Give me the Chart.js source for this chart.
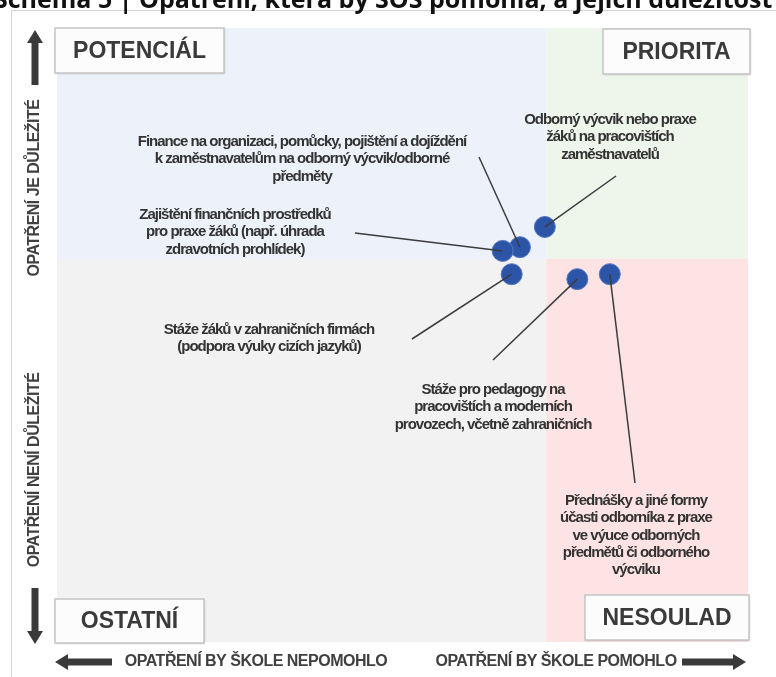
<!DOCTYPE html>
<html>
<head>
<meta charset="utf-8">
<script src="https://cdn.jsdelivr.net/npm/chart.js@4.4.1/dist/chart.umd.min.js"></script>
<style>
  body { margin: 0; background: #fff; }
  canvas { display: block; }
</style>
</head>
<body>
<canvas id="matice" width="776" height="677"></canvas>
<script>
// data
const titulek = 'Schéma 5 | Opatření, která by SOŠ pomohla, a jejich důležitost';
const opatreni = [
  ['Odborný výcvik nebo praxe', 'žáků na pracovištích', 'zaměstnavatelů'],
  ['Finance na organizaci, pomůcky, pojištění a dojíždění', 'k zaměstnavatelům na odborný výcvik/odborné', 'předměty'],
  ['Zajištění finančních prostředků', 'pro praxe žáků (např. úhrada', 'zdravotních prohlídek)'],
  ['Stáže žáků v zahraničních firmách', '(podpora výuky cizích jazyků)'],
  ['Stáže pro pedagogy na', 'pracovištích a moderních', 'provozech, včetně zahraničních'],
  ['Přednášky a jiné formy', 'účasti odborníka z praxe', 've výuce odborných', 'předmětů či odborného', 'výcviku']
];
const pomohlo = [70.6, 67.0, 64.5, 65.8, 75.3, 80.0];
const dulezitost = [67.6, 64.3, 63.7, 59.9, 59.1, 59.9];
const hranicePomohlo = 70.8;
const hraniceDulezitost = 62.4;
const kvadranty = ['POTENCIÁL', 'PRIORITA', 'OSTATNÍ', 'NESOULAD'];
const osaY = ['OPATŘENÍ JE DŮLEŽITÉ', 'OPATŘENÍ NENÍ DŮLEŽITÉ'];
const osaX = ['OPATŘENÍ BY ŠKOLE NEPOMOHLO', 'OPATŘENÍ BY ŠKOLE POMOHLO'];

// kde stoji popisky (px) a kam vede jejich cara
const popisky = [
  { x: 610, y: 120, cara: [616, 176] },
  { x: 302, y: 142, cara: [479, 157] },
  { x: 235, y: 215, cara: [355, 233] },
  { x: 269, y: 330, cara: [412, 339] },
  { x: 493, y: 390, cara: [493, 360] },
  { x: 636, y: 501, cara: [635, 483] }
];

const PISMO = '"Liberation Sans", Arial, sans-serif';
const TEXT = '#333';

function sipka(ctx, x1, y1, x2, y2) {
  // x2,y2 = spicka
  const ang = Math.atan2(y2 - y1, x2 - x1);
  const delka = Math.hypot(x2 - x1, y2 - y1);
  ctx.save();
  ctx.translate(x1, y1);
  ctx.rotate(ang);
  ctx.fillStyle = '#3a3a3a';
  ctx.fillRect(0, -3.5, delka - 12, 7);
  ctx.beginPath();
  ctx.moveTo(delka, 0);
  ctx.lineTo(delka - 13, -8);
  ctx.lineTo(delka - 13, 8);
  ctx.closePath();
  ctx.fill();
  ctx.restore();
}

function box(ctx, x, y, w, h, text) {
  ctx.save();
  ctx.shadowColor = 'rgba(0,0,0,0.15)';
  ctx.shadowBlur = 2;
  ctx.shadowOffsetX = 1;
  ctx.shadowOffsetY = 1;
  ctx.fillStyle = '#fcfcfc';
  ctx.fillRect(x, y, w, h);
  ctx.restore();
  ctx.strokeStyle = '#c4c4c4';
  ctx.lineWidth = 1.5;
  ctx.strokeRect(x, y, w, h);
  ctx.fillStyle = '#3a3a3a';
  ctx.font = 'bold 23px ' + PISMO;
  ctx.textAlign = 'center';
  ctx.textBaseline = 'middle';
  ctx.fillText(text, x + w / 2, y + h / 2 + 1);
}

const pozadi = {
  id: 'pozadi',
  beforeDraw(chart) {
    const { ctx, chartArea: a, scales } = chart;
    const sx = scales.x.getPixelForValue(hranicePomohlo);
    const sy = scales.y.getPixelForValue(hraniceDulezitost);
    ctx.save();
    ctx.fillStyle = '#fff';
    ctx.fillRect(0, 0, chart.width, chart.height);
    ctx.strokeStyle = '#d6d6d6';
    ctx.lineWidth = 1;
    ctx.strokeRect(11.5, 10.5, 900, 900);
    ctx.fillStyle = '#edf2fa';
    ctx.fillRect(a.left, a.top, sx - a.left, sy - a.top);
    ctx.fillStyle = '#eef5eb';
    ctx.fillRect(sx, a.top, a.right - sx, sy - a.top);
    ctx.fillStyle = '#f2f2f2';
    ctx.fillRect(a.left, sy, sx - a.left, a.bottom - sy);
    ctx.fillStyle = '#fde3e3';
    ctx.fillRect(sx, sy, a.right - sx, a.bottom - sy);
    ctx.restore();
  },
  afterDatasetsDraw(chart) {
    const { ctx, chartArea: a, scales } = chart;
    ctx.save();

    // vodici cary a popisky
    ctx.strokeStyle = '#3c3c3c';
    ctx.lineWidth = 1.5;
    popisky.forEach((p, i) => {
      const px = scales.x.getPixelForValue(pomohlo[i]);
      const py = scales.y.getPixelForValue(dulezitost[i]);
      ctx.beginPath();
      ctx.moveTo(p.cara[0], p.cara[1]);
      ctx.lineTo(px, py);
      ctx.stroke();
    });
    ctx.fillStyle = TEXT;
    ctx.font = 'bold 15px ' + PISMO;
    ctx.letterSpacing = '-1px';
    ctx.textAlign = 'center';
    ctx.textBaseline = 'middle';
    popisky.forEach((p, i) => {
      opatreni[i].forEach((radek, j) => ctx.fillText(radek, p.x, p.y + j * 17.3));
    });
    ctx.letterSpacing = '0px';

    // kvadranty
    box(ctx, a.left - 2, a.top, 169, 45, kvadranty[0]);
    box(ctx, a.right - 145, a.top + 1, 147, 45, kvadranty[1]);
    box(ctx, a.left - 2, a.bottom - 43, 149, 44, kvadranty[2]);
    box(ctx, a.right - 163, a.bottom - 47, 164, 45, kvadranty[3]);

    // osy
    sipka(ctx, 35, 85, 35, 30);
    sipka(ctx, 35, 588, 35, 644);
    sipka(ctx, 112, 662, 55, 662);
    sipka(ctx, 682, 662, 746, 662);

    ctx.fillStyle = '#404040';
    ctx.font = 'bold 16px ' + PISMO;
    ctx.letterSpacing = '-0.5px';
    ctx.textAlign = 'center';
    ctx.textBaseline = 'middle';
    ctx.fillText(osaX[0], 256, 662);
    ctx.fillText(osaX[1], 556, 662);
    [[osaY[0], 188], [osaY[1], 470]].forEach(([t, y]) => {
      ctx.save();
      ctx.translate(35, y);
      ctx.rotate(-Math.PI / 2);
      ctx.fillText(t, 0, 0);
      ctx.restore();
    });
    ctx.letterSpacing = '0px';

    // titulek (oriznuty nahore)
    ctx.fillStyle = '#111';
    ctx.font = 'bold 25px "Open Sans", sans-serif';
    ctx.textAlign = 'left';
    ctx.textBaseline = 'alphabetic';
    ctx.fillText(titulek, -6, 8);
    ctx.restore();
  }
};

new Chart(document.getElementById('matice'), {
  type: 'scatter',
  data: {
    datasets: [{
      data: pomohlo.map((x, i) => ({ x, y: dulezitost[i] })),
      backgroundColor: '#2c55a8',
      borderColor: '#5577c0',
      borderWidth: 1,
      pointRadius: 10.5
    }]
  },
  options: {
    responsive: false,
    animation: false,
    layout: { padding: { left: 57, top: 28, right: 28, bottom: 35 } },
    plugins: { legend: { display: false }, tooltip: { enabled: false } },
    scales: {
      x: { display: false, min: 0, max: 100 },
      y: { display: false, min: 0, max: 100 }
    }
  },
  plugins: [pozadi]
});
</script>
</body>
</html>
